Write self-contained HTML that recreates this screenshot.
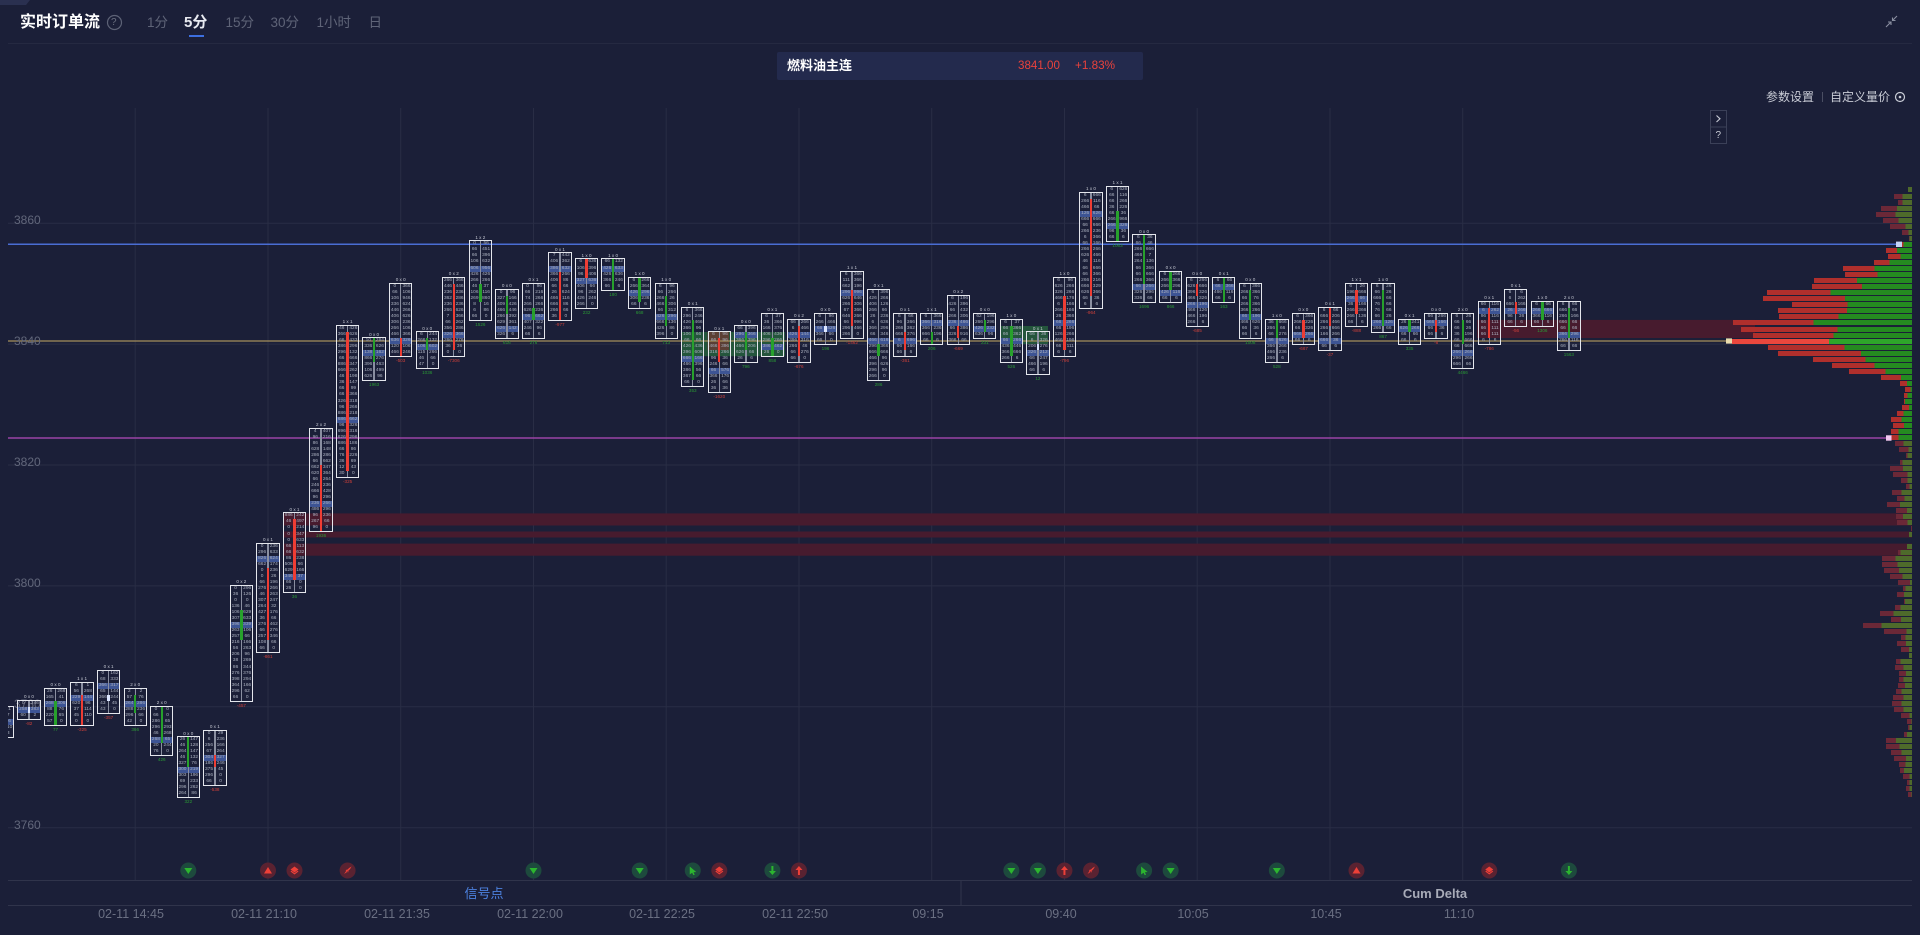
<!DOCTYPE html>
<html><head><meta charset="utf-8"><style>
*{margin:0;padding:0;box-sizing:border-box}
html,body{width:1920px;height:935px;overflow:hidden;background:#1b1f38;font-family:"Liberation Sans","Noto Sans CJK SC",sans-serif}
u{text-decoration:none}
.a{position:absolute;white-space:nowrap}
.yl{position:absolute;left:14px;font-size:12px;line-height:14px;color:#62677b}
.tl{position:absolute;top:907px;font-size:12.5px;line-height:15px;color:#6a6f82;transform:translateX(-50%);white-space:nowrap}
.c{position:absolute;left:calc(var(--x)*26.55px - 8.25px);top:calc(827.7px - var(--t)*6.045px);width:21.4px;height:calc((var(--t) - var(--b))*6.045px);outline:1.2px solid #e4e6ec}
.c .p{position:absolute;left:0;right:0;top:calc((var(--t) - var(--p) - 1)*6.045px);height:6.045px;background:#3d5494}
.c span{position:absolute;top:0;height:100%;width:9.6px;overflow:hidden;font:4.8px/6.045px "Liberation Sans",sans-serif;color:#aab0bf;text-align:center;word-spacing:12px;white-space:normal}
.c .L{left:0.1px}.c .R{right:0.1px}
.c .w{position:absolute;left:10px;width:1.4px;top:0;bottom:0;background:#8a8fa1}
.c .o{position:absolute;left:9.5px;width:2.4px;top:calc((var(--t) - var(--c))*6.045px);height:calc((var(--c) - var(--o))*6.045px)}
.c .g{background:#27a12c}.c .r{background:#ee3d34}.c .n{background:#dce6ff}
.c .h{position:absolute;left:-6px;right:-6px;top:-6.5px;font:4.6px/5px "Liberation Sans",sans-serif;color:#c3c6d1;text-align:center;white-space:nowrap}
.c .d{position:absolute;left:-6px;right:-6px;bottom:-7px;font:4.6px/5px "Liberation Sans",sans-serif;text-align:center;white-space:nowrap}
.c .gt{color:#2a9a35}.c .rt{color:#d0403a}
.vp i{position:absolute;display:block;height:5px;top:calc(822.2px - var(--j)*6.045px);left:calc(var(--r)*1px);width:calc(1912px - var(--r)*1px);background:linear-gradient(90deg,#6b2837 calc((var(--g) - var(--r))*1px),#4e6a2b 0)}
.vp i.v{background:linear-gradient(90deg,#b02f2c calc((var(--g) - var(--r))*1px),#258a20 0)}
.vp i.p{background:linear-gradient(90deg,#ea473d calc((var(--g) - var(--r))*1px),#2ea62a 0)}
</style></head><body>

<svg class="a" style="left:0;top:0" width="1920" height="935" viewBox="0 0 1920 935">
<path d="M0 0H30L26 5H0Z" fill="#2a3050"/>
<path d="M8 43.5H1912" stroke="#252941" stroke-width="1"/>
<g stroke="#292d45" stroke-width="1" fill="none">
<path d="M8 223.3H1912M8 344.1H1912M8 465H1912M8 585.9H1912M8 706.8H1912M8 827.7H1912"/>
<path d="M135.2 108V880M268 108V880M400.7 108V880M533.5 108V880M666.2 108V880M799 108V880M931.7 108V880M1064.5 108V880M1197.2 108V880M1330 108V880M1462.7 108V880"/>
</g>
<rect x="284" y="513.4" width="1628" height="12.1" fill="#471b2e"/>
<rect x="284" y="531.5" width="1628" height="6" fill="#471b2e"/>
<rect x="284" y="543.6" width="1628" height="12.1" fill="#471b2e"/>
<rect x="1477" y="319.9" width="278" height="18.1" fill="#471b2e"/>
<rect x="681" y="332" width="104" height="24.2" fill="#24553c"/>
<rect x="707.5" y="332" width="21.5" height="18.1" fill="#5b3f35"/>
<rect x="1000" y="326" width="48" height="18.1" fill="#24553c"/>
<path d="M8 244.3H1896" stroke="#4a6dd3" stroke-width="1.5"/>
<path d="M8 341H1726" stroke="#a58f5c" stroke-width="1.3"/>
<path d="M8 438H1886" stroke="#9a43a6" stroke-width="1.5"/>
<path d="M8 880.5H1912M8 905.5H1912M961 881V905" stroke="#30344b" stroke-width="1"/>
<circle cx="114.5" cy="22.5" r="7" fill="none" stroke="#5d6276" stroke-width="1.2"/>
<path d="M1122 63.5L1127 68.5L1132 63.5" fill="none" stroke="#8a8fa2" stroke-width="1.1"/>
<path d="M1886 27L1891 22M1888 22H1891V25M1897 16L1892.5 20.5M1892.5 17.5V20.5H1895.5" fill="none" stroke="#8a8fa0" stroke-width="1.1"/>
<path d="M1822.5 92V102" stroke="#4a4e63" stroke-width="1"/>
<circle cx="1900" cy="97" r="4.5" fill="none" stroke="#c9ccd6" stroke-width="1.2"/>
<circle cx="1900" cy="97" r="1.3" fill="#c9ccd6"/>
<rect x="1710.5" y="110.5" width="16" height="16.5" fill="none" stroke="#3b4058"/>
<rect x="1710.5" y="127" width="16" height="16.5" fill="none" stroke="#3b4058"/>
<path d="M1716.5 115.5L1720 118.8L1716.5 122" fill="none" stroke="#c9ccd6" stroke-width="1.1"/>
</svg>

<div class="a" style="left:20px;top:13px;font-weight:bold;font-size:16px;line-height:19px;color:#fff">实时订单流</div>
<div class="a" style="left:111px;top:16px;font-size:10px;line-height:13px;color:#6b7080">?</div>
<div class="a" style="left:147px;top:14.5px;font-size:13.5px;line-height:16px;color:#5f6478">1分</div>
<div class="a" style="left:184px;top:13.5px;font-size:15px;line-height:17px;font-weight:bold;color:#e8eaf0">5分</div>
<div class="a" style="left:188.5px;top:34.5px;width:15px;height:2px;background:#3d6fe0"></div>
<div class="a" style="left:225.5px;top:14.5px;font-size:13.5px;line-height:16px;color:#5f6478">15分</div>
<div class="a" style="left:270.5px;top:14.5px;font-size:13.5px;line-height:16px;color:#5f6478">30分</div>
<div class="a" style="left:316.5px;top:14.5px;font-size:13.5px;line-height:16px;color:#5f6478">1小时</div>
<div class="a" style="left:368.5px;top:14.5px;font-size:13.5px;line-height:16px;color:#5f6478">日</div>

<div class="a" style="left:777px;top:52px;width:366px;height:28px;background:#232a4d;border-radius:2px"></div>
<div class="a" style="left:787px;top:58px;font-weight:bold;font-size:13px;line-height:16px;color:#fff">燃料油主连</div>
<div class="a" style="left:1018px;top:59px;font-size:11.6px;line-height:14px;color:#e9423c">3841.00</div>
<div class="a" style="left:1075px;top:59px;font-size:11.7px;line-height:14px;color:#e9423c">+1.83%</div>

<div class="a" style="left:1766px;top:90px;font-size:12px;line-height:14px;color:#c9ccd6">参数设置</div>
<div class="a" style="left:1830px;top:90px;font-size:12px;line-height:14px;color:#c9ccd6">自定义量价</div>
<div class="a" style="left:1715.5px;top:128.5px;font-size:10px;line-height:13px;color:#c9ccd6">?</div>

<div class="yl" style="top:213px">3860</div>
<div class="yl" style="top:334px">3840</div>
<div class="yl" style="top:455px">3820</div>
<div class="yl" style="top:576px">3800</div>
<div class="yl" style="top:697px">3780</div>
<div class="yl" style="top:817.5px">3760</div>

<div class="a" style="left:0;top:0;width:1920px;height:935px;clip-path:inset(0 0 0 8px);white-space:normal">
<div class="c" style="--x:0;--t:20;--b:15;--p:17;--o:17;--c:18"><i class="p"></i><span class="L">8 26 140 35 12</span><span class="R">41 7 96 210 3</span><i class="w"></i><i class="o r"></i><u class="h">0 x 1</u><u class="d rt">-86</u></div>
<div class="c" style="--x:1;--t:21;--b:18;--p:19;--o:19;--c:20"><i class="p"></i><span class="L">0 258 60</span><span class="R">146 383 2</span><i class="w"></i><i class="o n"></i><u class="h">0 x 0</u><u class="d rt">-82</u></div>
<div class="c" style="--x:2;--t:23;--b:17;--p:20;--o:17;--c:21"><i class="p"></i><span class="L">26 165 268 88 220 57</span><span class="R">268 41 306 76 65 0</span><i class="w"></i><i class="o g"></i><u class="h">0 x 0</u><u class="d gt">77</u></div>
<div class="c" style="--x:3;--t:24;--b:17;--p:21;--o:17;--c:22"><i class="p"></i><span class="L">6 56 229 620 37 45 0</span><span class="R">1 268 144 96 114 110 0</span><i class="w"></i><i class="o r"></i><u class="h">1 x 1</u><u class="d rt">-325</u></div>
<div class="c" style="--x:4;--t:26;--b:19;--p:23;--o:21;--c:22"><i class="p"></i><span class="L">0 68 366 65 366 43 43</span><span class="R">162 333 317 144 244 45 0</span><i class="w"></i><i class="o n"></i><u class="h">0 x 1</u><u class="d rt">-357</u></div>
<div class="c" style="--x:5;--t:23;--b:17;--p:20;--o:19;--c:22"><i class="p"></i><span class="L">2 57 264 288 296 42</span><span class="R">2 76 286 236 66 0</span><i class="w"></i><i class="o g"></i><u class="h">2 x 0</u><u class="d gt">366</u></div>
<div class="c" style="--x:6;--t:20;--b:12;--p:14;--o:14;--c:20"><i class="p"></i><span class="L">0 66 286 296 46 268 20 76</span><span class="R">0 0 65 293 268 65 244 0</span><i class="w"></i><i class="o g"></i><u class="h">2 x 0</u><u class="d gt">426</u></div>
<div class="c" style="--x:7;--t:15;--b:5;--p:9;--o:10;--c:15"><i class="p"></i><span class="L">26 46 264 46 327 300 303 69 296 264</span><span class="R">147 128 147 132 76 219 196 233 262 86</span><i class="w"></i><i class="o g"></i><u class="h">0 x 0</u><u class="d gt">322</u></div>
<div class="c" style="--x:8;--t:16;--b:7;--p:11;--o:10;--c:12"><i class="p"></i><span class="L">0 6 256 67 304 186 375 296 66</span><span class="R">29 236 166 264 327 246 45 0 0</span><i class="w"></i><i class="o r"></i><u class="h">0 x 1</u><u class="d rt">-538</u></div>
<div class="c" style="--x:9;--t:40;--b:21;--p:33;--o:31;--c:36"><i class="p"></i><span class="L">0 36 0 136 106 307 396 263 257 216 56 206 38 86 276 398 364 296 66</span><span class="R">296 126 0 46 629 633 339 106 66 166 263 96 269 344 376 294 166 62 0</span><i class="w"></i><i class="o g"></i><u class="h">0 x 2</u><u class="d rt">-457</u></div>
<div class="c" style="--x:10;--t:47;--b:29;--p:44;--o:31;--c:43"><i class="p"></i><span class="L">0 296 826 662 0 0 66 276 46 307 264 427 36 276 66 257 108 66</span><span class="R">236 633 624 174 236 26 196 266 263 247 32 176 66 462 276 346 66 0</span><i class="w"></i><i class="o r"></i><u class="h">0 x 1</u><u class="d rt">-861</u></div>
<div class="c" style="--x:11;--t:52;--b:39;--p:41;--o:41;--c:51"><i class="p"></i><span class="L">886 46 0 0 0 66 66 86 506 629 346 66 26</span><span class="R">242 497 214 347 633 113 632 238 66 166 37 0 0</span><i class="w"></i><i class="o r"></i><u class="h">0 x 1</u><u class="d gt">36</u></div>
<div class="c" style="--x:12;--t:66;--b:49;--p:53;--o:49;--c:60"><i class="p"></i><span class="L">4 96 86 628 286 66 662 620 66 246 666 96 236 486 96 267 96</span><span class="R">407 216 168 148 286 662 347 364 264 236 428 296 266 296 236 66 0</span><i class="w"></i><i class="o r"></i><u class="h">2 x 2</u><u class="d gt">1936</u></div>
<div class="c" style="--x:13;--t:83;--b:58;--p:67;--o:59;--c:82"><i class="p"></i><span class="L">46 366 66 386 296 66 886 666 46 36 66 66 326 96 886 686 96 696 626 686 66 76 36 12 30</span><span class="R">426 626 433 296 132 666 347 262 198 147 99 366 318 266 218 662 326 316 296 186 86 226 69 43 0</span><i class="w"></i><i class="o r"></i><u class="h">1 x 1</u><u class="d rt">-325</u></div>
<div class="c" style="--x:14;--t:81;--b:74;--p:78;--o:77;--c:81"><i class="p"></i><span class="L">10 336 138 866 396 106 626</span><span class="R">264 626 162 276 463 499 96</span><i class="w"></i><i class="o g"></i><u class="h">0 x 0</u><u class="d gt">1963</u></div>
<div class="c" style="--x:15;--t:90;--b:78;--p:80;--o:78;--c:81"><i class="p"></i><span class="L">0 66 106 336 446 406 306 266 466 636 120 466</span><span class="R">366 106 946 624 266 626 236 106 366 326 106 246</span><i class="w"></i><i class="o r"></i><u class="h">0 x 0</u><u class="d rt">-503</u></div>
<div class="c" style="--x:16;--t:82;--b:76;--p:79;--o:79;--c:81"><i class="p"></i><span class="L">6 266 106 115 46 47</span><span class="R">244 132 602 266 66 0</span><i class="w"></i><i class="o g"></i><u class="h">0 x 0</u><u class="d gt">1036</u></div>
<div class="c" style="--x:17;--t:91;--b:78;--p:81;--o:79;--c:90"><i class="p"></i><span class="L">266 446 236 362 236 266 7 66 356 326 266 36 0</span><span class="R">366 446 236 286 236 626 366 262 286 366 276 36 0</span><i class="w"></i><i class="o r"></i><u class="h">0 x 2</u><u class="d rt">-7306</u></div>
<div class="c" style="--x:18;--t:97;--b:84;--p:92;--o:87;--c:90"><i class="p"></i><span class="L">0 66 66 106 606 426 266 46 106 269 8 6 66</span><span class="R">56 451 396 632 956 426 266 37 116 860 16 86 0</span><i class="w"></i><i class="o g"></i><u class="h">1 x 2</u><u class="d gt">1526</u></div>
<div class="c" style="--x:19;--t:89;--b:81;--p:82;--o:85;--c:88"><i class="p"></i><span class="L">0 327 409 466 266 629 626 326</span><span class="R">96 166 426 446 392 361 142 6</span><i class="w"></i><i class="o g"></i><u class="h">0 x 0</u><u class="d gt">616</u></div>
<div class="c" style="--x:20;--t:90;--b:81;--p:84;--o:84;--c:86"><i class="p"></i><span class="L">0 66 74 266 626 96 407 246 66</span><span class="R">96 216 266 266 236 662 322 96 6</span><i class="w"></i><i class="o g"></i><u class="h">0 x 1</u><u class="d gt">276</u></div>
<div class="c" style="--x:21;--t:95;--b:84;--p:92;--o:84;--c:92"><i class="p"></i><span class="L">7 406 386 366 406 66 26 466 666 266 36</span><span class="R">442 362 632 266 86 66 624 116 86 66 0</span><i class="w"></i><i class="o r"></i><u class="h">0 x 1</u><u class="d rt">-977</u></div>
<div class="c" style="--x:22;--t:94;--b:86;--p:90;--o:91;--c:94"><i class="p"></i><span class="L">6 106 96 327 406 96 426 266</span><span class="R">636 396 406 636 66 262 246 0</span><i class="w"></i><i class="o r"></i><u class="h">1 x 0</u><u class="d gt">232</u></div>
<div class="c" style="--x:23;--t:94;--b:89;--p:92;--o:89;--c:94"><i class="p"></i><span class="L">66 426 426 366 66</span><span class="R">132 633 636 246 6</span><i class="w"></i><i class="o g"></i><u class="h">1 x 0</u><u class="d gt">180</u></div>
<div class="c" style="--x:24;--t:91;--b:86;--p:88;--o:87;--c:91"><i class="p"></i><span class="L">6 266 426 306 66</span><span class="R">266 364 296 236 6</span><i class="w"></i><i class="o g"></i><u class="h">1 x 0</u><u class="d gt">668</u></div>
<div class="c" style="--x:25;--t:90;--b:81;--p:84;--o:83;--c:88"><i class="p"></i><span class="L">6 66 266 466 66 426 666 426 396</span><span class="R">96 266 26 306 312 296 136 86 0</span><i class="w"></i><i class="o g"></i><u class="h">1 x 0</u><u class="d gt">713</u></div>
<div class="c" style="--x:26;--t:86;--b:73;--p:77;--o:74;--c:84"><i class="p"></i><span class="L">6 296 426 366 106 66 426 396 666 466 386 367 66</span><span class="R">366 246 466 96 66 66 436 606 166 396 56 66 0</span><i class="w"></i><i class="o g"></i><u class="h">0 x 1</u><u class="d gt">353</u></div>
<div class="c" style="--x:27;--t:82;--b:72;--p:75;--o:77;--c:81"><i class="p"></i><span class="L">6 66 466 316 96 246 66 366 26 36</span><span class="R">96 96 396 266 36 66 576 176 66 36</span><i class="w"></i><i class="o r"></i><u class="h">0 x 1</u><u class="d rt">-1620</u></div>
<div class="c" style="--x:28;--t:83;--b:77;--p:81;--o:79;--c:82"><i class="p"></i><span class="L">66 296 366 466 626 26</span><span class="R">396 366 396 206 66 6</span><i class="w"></i><i class="o g"></i><u class="h">0 x 0</u><u class="d gt">796</u></div>
<div class="c" style="--x:29;--t:85;--b:78;--p:79;--o:78;--c:81"><i class="p"></i><span class="L">6 36 166 406 296 386 26</span><span class="R">37 366 376 436 266 462 0</span><i class="w"></i><i class="o g"></i><u class="h">0 x 1</u><u class="d gt">858</u></div>
<div class="c" style="--x:30;--t:84;--b:77;--p:81;--o:78;--c:83"><i class="p"></i><span class="L">66 6 426 396 266 66 66</span><span class="R">266 466 144 316 46 276 0</span><i class="w"></i><i class="o r"></i><u class="h">0 x 2</u><u class="d rt">-676</u></div>
<div class="c" style="--x:31;--t:85;--b:80;--p:82;--o:82;--c:83"><i class="p"></i><span class="L">6 266 66 366 66</span><span class="R">96 466 426 66 0</span><i class="w"></i><i class="o n"></i><u class="h">0 x 0</u><u class="d gt">196</u></div>
<div class="c" style="--x:32;--t:92;--b:81;--p:88;--o:83;--c:89"><i class="p"></i><span class="L">6 111 662 296 626 266 67 646 66 296 266</span><span class="R">366 366 196 996 646 306 366 266 996 466 0</span><i class="w"></i><i class="o r"></i><u class="h">1 x 1</u><u class="d rt">-1462</u></div>
<div class="c" style="--x:33;--t:89;--b:74;--p:80;--o:78;--c:80"><i class="p"></i><span class="L">6 426 406 266 26 6 366 66 466 296 666 466 396 296 266</span><span class="R">396 266 126 66 236 636 296 346 616 366 666 96 626 96 0</span><i class="w"></i><i class="o g"></i><u class="h">0 x 1</u><u class="d gt">286</u></div>
<div class="c" style="--x:34;--t:85;--b:78;--p:80;--o:79;--c:82"><i class="p"></i><span class="L">6 96 266 666 6 66 66</span><span class="R">66 366 362 376 696 166 6</span><i class="w"></i><i class="o r"></i><u class="h">0 x 1</u><u class="d rt">-361</u></div>
<div class="c" style="--x:35;--t:85;--b:80;--p:83;--o:80;--c:82"><i class="p"></i><span class="L">6 366 366 666 66</span><span class="R">366 316 236 196 6</span><i class="w"></i><i class="o g"></i><u class="h">1 x 1</u><u class="d gt">206</u></div>
<div class="c" style="--x:36;--t:88;--b:80;--p:83;--o:81;--c:83"><i class="p"></i><span class="L">6 426 66 266 236 66 326 366</span><span class="R">196 396 432 306 466 386 916 66</span><i class="w"></i><i class="o r"></i><u class="h">0 x 2</u><u class="d rt">-669</u></div>
<div class="c" style="--x:37;--t:85;--b:81;--p:82;--o:82;--c:84"><i class="p"></i><span class="L">62 266 426 636</span><span class="R">196 296 232 96</span><i class="w"></i><i class="o g"></i><u class="h">0 x 0</u><u class="d gt">231</u></div>
<div class="c" style="--x:38;--t:84;--b:77;--p:80;--o:78;--c:83"><i class="p"></i><span class="L">6 66 66 66 436 366 266</span><span class="R">37 366 362 266 446 666 6</span><i class="w"></i><i class="o g"></i><u class="h">1 x 0</u><u class="d gt">526</u></div>
<div class="c" style="--x:39;--t:82;--b:75;--p:78;--o:79;--c:80"><i class="p"></i><span class="L">66 6 206 326 66 466 66</span><span class="R">36 326 276 212 247 196 6</span><i class="w"></i><i class="o n"></i><u class="h">0 x 1</u><u class="d gt">12</u></div>
<div class="c" style="--x:40;--t:91;--b:78;--p:83;--o:79;--c:88"><i class="p"></i><span class="L">6 626 326 466 6 266 26 66 66 126 466 66 6</span><span class="R">96 266 266 176 166 166 366 266 196 266 196 111 6</span><i class="w"></i><i class="o r"></i><u class="h">1 x 0</u><u class="d rt">-796</u></div>
<div class="c" style="--x:41;--t:105;--b:86;--p:101;--o:88;--c:104"><i class="p"></i><span class="L">6 266 466 126 666 66 266 6 66 266 626 46 66 66 266 666 626 66 6</span><span class="R">666 116 66 626 666 666 236 366 166 266 466 116 666 366 216 329 366 36 6</span><i class="w"></i><i class="o r"></i><u class="h">1 x 0</u><u class="d rt">-964</u></div>
<div class="c" style="--x:42;--t:106;--b:97;--p:99;--o:97;--c:102"><i class="p"></i><span class="L">6 66 66 36 66 266 266 96 66</span><span class="R">626 116 266 226 36 966 326 36 6</span><i class="w"></i><i class="o g"></i><u class="h">1 x 1</u><u class="d gt">1063</u></div>
<div class="c" style="--x:43;--t:98;--b:87;--p:89;--o:90;--c:98"><i class="p"></i><span class="L">6 66 266 466 264 66 66 266 66 326 336</span><span class="R">36 46 666 7 136 366 666 366 266 296 66</span><i class="w"></i><i class="o g"></i><u class="h">0 x 0</u><u class="d gt">1696</u></div>
<div class="c" style="--x:44;--t:92;--b:87;--p:88;--o:89;--c:92"><i class="p"></i><span class="L">6 266 266 426 66</span><span class="R">266 366 296 116 6</span><i class="w"></i><i class="o g"></i><u class="h">0 x 0</u><u class="d gt">866</u></div>
<div class="c" style="--x:45;--t:91;--b:83;--p:86;--o:88;--c:90"><i class="p"></i><span class="L">6 626 396 466 266 466 466 266</span><span class="R">266 666 326 326 196 126 196 6</span><i class="w"></i><i class="o r"></i><u class="h">0 x 0</u><u class="d rt">-685</u></div>
<div class="c" style="--x:46;--t:91;--b:87;--p:89;--o:87;--c:91"><i class="p"></i><span class="L">6 66 466 66</span><span class="R">66 366 116 6</span><i class="w"></i><i class="o g"></i><u class="h">0 x 1</u><u class="d gt">163</u></div>
<div class="c" style="--x:47;--t:90;--b:81;--p:84;--o:84;--c:89"><i class="p"></i><span class="L">6 266 66 266 366 66 466 66 66</span><span class="R">366 366 76 366 266 196 626 36 6</span><i class="w"></i><i class="o g"></i><u class="h">0 x 0</u><u class="d gt">1008</u></div>
<div class="c" style="--x:48;--t:84;--b:77;--p:80;--o:81;--c:84"><i class="p"></i><span class="L">36 266 66 66 366 466 266</span><span class="R">666 66 276 626 266 236 6</span><i class="w"></i><i class="o g"></i><u class="h">1 x 0</u><u class="d gt">528</u></div>
<div class="c" style="--x:49;--t:85;--b:80;--p:81;--o:81;--c:84"><i class="p"></i><span class="L">6 266 66 666 66</span><span class="R">366 226 326 266 6</span><i class="w"></i><i class="o r"></i><u class="h">0 x 0</u><u class="d rt">-667</u></div>
<div class="c" style="--x:50;--t:86;--b:79;--p:80;--o:83;--c:86"><i class="p"></i><span class="L">6 666 266 266 166 666 66</span><span class="R">66 206 466 666 266 36 6</span><i class="w"></i><i class="o r"></i><u class="h">0 x 1</u><u class="d rt">-37</u></div>
<div class="c" style="--x:51;--t:90;--b:83;--p:87;--o:85;--c:89"><i class="p"></i><span class="L">6 196 266 36 266 266 66</span><span class="R">26 666 66 166 366 136 6</span><i class="w"></i><i class="o r"></i><u class="h">1 x 1</u><u class="d rt">-888</u></div>
<div class="c" style="--x:52;--t:90;--b:82;--p:83;--o:83;--c:89"><i class="p"></i><span class="L">6 66 666 76 76 66 266 266</span><span class="R">26 26 66 66 66 26 126 66</span><i class="w"></i><i class="o g"></i><u class="h">1 x 0</u><u class="d gt">867</u></div>
<div class="c" style="--x:53;--t:84;--b:80;--p:82;--o:82;--c:84"><i class="p"></i><span class="L">26 626 66 66</span><span class="R">241 266 66 6</span><i class="w"></i><i class="o g"></i><u class="h">0 x 1</u><u class="d gt">335</u></div>
<div class="c" style="--x:54;--t:85;--b:81;--p:83;--o:82;--c:84"><i class="p"></i><span class="L">66 666 66 66</span><span class="R">266 166 36 6</span><i class="w"></i><i class="o r"></i><u class="h">0 x 0</u><u class="d rt">-8</u></div>
<div class="c" style="--x:55;--t:85;--b:76;--p:78;--o:80;--c:84"><i class="p"></i><span class="L">6 66 66 36 66 66 266 296 666</span><span class="R">26 66 26 196 666 666 266 266 66</span><i class="w"></i><i class="o g"></i><u class="h">2 x 0</u><u class="d gt">4466</u></div>
<div class="c" style="--x:56;--t:87;--b:80;--p:85;--o:81;--c:86"><i class="p"></i><span class="L">66 6 96 66 66 66 6</span><span class="R">116 262 116 111 111 111 6</span><i class="w"></i><i class="o r"></i><u class="h">0 x 1</u><u class="d rt">-786</u></div>
<div class="c" style="--x:57;--t:89;--b:83;--p:85;--o:85;--c:87"><i class="p"></i><span class="L">6 6 666 26 96 66</span><span class="R">6 262 166 266 36 6</span><i class="w"></i><i class="o r"></i><u class="h">0 x 1</u><u class="d rt">-56</u></div>
<div class="c" style="--x:58;--t:87;--b:83;--p:85;--o:84;--c:87"><i class="p"></i><span class="L">6 266 366 66</span><span class="R">66 666 116 6</span><i class="w"></i><i class="o g"></i><u class="h">1 x 0</u><u class="d gt">1306</u></div>
<div class="c" style="--x:59;--t:87;--b:79;--p:81;--o:81;--c:86"><i class="p"></i><span class="L">6 666 266 666 66 366 266 66</span><span class="R">66 66 166 66 66 296 116 66</span><i class="w"></i><i class="o g"></i><u class="h">2 x 0</u><u class="d gt">1563</u></div>
</div>

<div class="vp">
<i style="--j:105;--r:1908;--g:1908"></i>
<i style="--j:104;--r:1894.3;--g:1902.7"></i>
<i style="--j:103;--r:1898.3;--g:1902.7"></i>
<i style="--j:102;--r:1881.3;--g:1897.3"></i>
<i style="--j:101;--r:1875.7;--g:1895"></i>
<i style="--j:100;--r:1883.3;--g:1899"></i>
<i style="--j:99;--r:1890.3;--g:1905.7"></i>
<i style="--j:98;--r:1902;--g:1908.3"></i>
<i style="--j:97;--r:1908.7;--g:1909.3"></i>
<i class="v" style="--j:96;--r:1901.7;--g:1903.3"></i>
<i class="v" style="--j:95;--r:1886;--g:1897"></i>
<i class="v" style="--j:94;--r:1888;--g:1900.7"></i>
<i class="v" style="--j:93;--r:1874;--g:1889.7"></i>
<i class="v" style="--j:92;--r:1843.3;--g:1875"></i>
<i class="v" style="--j:91;--r:1844.7;--g:1877.3"></i>
<i class="v" style="--j:90;--r:1814.3;--g:1857.3"></i>
<i class="v" style="--j:89;--r:1811.7;--g:1861.7"></i>
<i class="v" style="--j:88;--r:1767.3;--g:1831"></i>
<i class="v" style="--j:87;--r:1763.3;--g:1845.3"></i>
<i class="v" style="--j:86;--r:1791.7;--g:1847"></i>
<i class="v" style="--j:85;--r:1778;--g:1847"></i>
<i class="v" style="--j:84;--r:1779.3;--g:1839"></i>
<i class="v" style="--j:83;--r:1732.7;--g:1813.3"></i>
<i class="v" style="--j:82;--r:1741.3;--g:1837.7"></i>
<i class="v" style="--j:81;--r:1753.3;--g:1834"></i>
<i class="p" style="--j:80;--r:1732;--g:1829"></i>
<i class="v" style="--j:79;--r:1767.7;--g:1844.3"></i>
<i class="v" style="--j:78;--r:1778;--g:1861"></i>
<i class="v" style="--j:77;--r:1813;--g:1865.7"></i>
<i class="v" style="--j:76;--r:1832;--g:1874.7"></i>
<i class="v" style="--j:75;--r:1849;--g:1885.7"></i>
<i class="v" style="--j:74;--r:1881;--g:1901"></i>
<i class="v" style="--j:73;--r:1900.3;--g:1907.3"></i>
<i class="v" style="--j:72;--r:1904.7;--g:1910"></i>
<i class="v" style="--j:71;--r:1903.7;--g:1907.3"></i>
<i class="v" style="--j:70;--r:1904;--g:1905"></i>
<i class="v" style="--j:69;--r:1902;--g:1909"></i>
<i class="v" style="--j:68;--r:1897;--g:1903.3"></i>
<i class="v" style="--j:67;--r:1891;--g:1901.7"></i>
<i class="v" style="--j:66;--r:1892.7;--g:1903.7"></i>
<i class="v" style="--j:65;--r:1891;--g:1898.3"></i>
<i class="v" style="--j:64;--r:1891;--g:1898.7"></i>
<i style="--j:63;--r:1895.3;--g:1903.7"></i>
<i style="--j:62;--r:1899;--g:1908.7"></i>
<i style="--j:61;--r:1905.7;--g:1907.3"></i>
<i style="--j:60;--r:1899.7;--g:1902"></i>
<i style="--j:59;--r:1889.7;--g:1902.7"></i>
<i style="--j:58;--r:1893;--g:1907.3"></i>
<i style="--j:57;--r:1901;--g:1907.7"></i>
<i style="--j:56;--r:1905.7;--g:1909.3"></i>
<i style="--j:55;--r:1891.7;--g:1901"></i>
<i style="--j:54;--r:1897;--g:1904.7"></i>
<i style="--j:53;--r:1887.3;--g:1900.3"></i>
<i style="--j:52;--r:1896;--g:1907"></i>
<i style="--j:51;--r:1896;--g:1903"></i>
<i style="--j:50;--r:1897;--g:1907.3"></i>
<i style="--j:49;--r:1911;--g:1912"></i>
<i style="--j:48;--r:1909;--g:1909"></i>
<i style="--j:46;--r:1906.7;--g:1906.7"></i>
<i style="--j:45;--r:1898.3;--g:1901"></i>
<i style="--j:44;--r:1882.3;--g:1895.7"></i>
<i style="--j:43;--r:1882.3;--g:1897.7"></i>
<i style="--j:42;--r:1884;--g:1899"></i>
<i style="--j:41;--r:1889.7;--g:1902.3"></i>
<i style="--j:40;--r:1897.7;--g:1909.7"></i>
<i style="--j:39;--r:1903;--g:1905.7"></i>
<i style="--j:38;--r:1897.3;--g:1904.3"></i>
<i style="--j:37;--r:1903.7;--g:1904.7"></i>
<i style="--j:36;--r:1895.3;--g:1901"></i>
<i style="--j:35;--r:1879.7;--g:1893"></i>
<i style="--j:34;--r:1891;--g:1901"></i>
<i style="--j:33;--r:1863.3;--g:1882"></i>
<i style="--j:32;--r:1883.7;--g:1906"></i>
<i style="--j:31;--r:1901.3;--g:1906"></i>
<i style="--j:30;--r:1896.7;--g:1905.7"></i>
<i style="--j:29;--r:1901.3;--g:1909.3"></i>
<i style="--j:28;--r:1909;--g:1909"></i>
<i style="--j:27;--r:1896.3;--g:1901"></i>
<i style="--j:26;--r:1894.7;--g:1903"></i>
<i style="--j:25;--r:1898.7;--g:1905.7"></i>
<i style="--j:24;--r:1899.3;--g:1903.7"></i>
<i style="--j:23;--r:1898.3;--g:1905.3"></i>
<i style="--j:22;--r:1896.3;--g:1902"></i>
<i style="--j:21;--r:1893.3;--g:1903.7"></i>
<i style="--j:20;--r:1891.7;--g:1901"></i>
<i style="--j:19;--r:1894;--g:1903.3"></i>
<i style="--j:18;--r:1900.7;--g:1909"></i>
<i style="--j:17;--r:1907.3;--g:1911.7"></i>
<i style="--j:16;--r:1907.7;--g:1909.3"></i>
<i style="--j:15;--r:1904;--g:1907"></i>
<i style="--j:14;--r:1886.3;--g:1896.3"></i>
<i style="--j:13;--r:1886;--g:1899.3"></i>
<i style="--j:12;--r:1891;--g:1901.7"></i>
<i style="--j:11;--r:1894;--g:1906"></i>
<i style="--j:10;--r:1899;--g:1905.7"></i>
<i style="--j:9;--r:1899.7;--g:1903.7"></i>
<i style="--j:8;--r:1903.3;--g:1909.7"></i>
<i style="--j:7;--r:1907;--g:1909.7"></i>
<i style="--j:6;--r:1906.3;--g:1909.7"></i>
<i style="--j:5;--r:1908.3;--g:1911.7"></i>
</div>

<svg class="a" style="left:0;top:0" width="1920" height="935" viewBox="0 0 1920 935">
<rect x="1896" y="241.6" width="6" height="5.4" fill="#c6d4f6"/>
<rect x="1726" y="338.4" width="6" height="5.2" fill="#eadcae"/>
<rect x="1886" y="435.3" width="5.5" height="5.4" fill="#f2c8f0"/>
<g fill="#1d4a3d">
<circle cx="188.3" cy="870.5" r="8"/><circle cx="533.5" cy="870.5" r="8"/><circle cx="639.7" cy="870.5" r="8"/><circle cx="692.75" cy="870.5" r="8"/><circle cx="772.4" cy="870.5" r="8"/><circle cx="1011.35" cy="870.5" r="8"/><circle cx="1037.9" cy="870.5" r="8"/><circle cx="1144.1" cy="870.5" r="8"/><circle cx="1170.65" cy="870.5" r="8"/><circle cx="1276.85" cy="870.5" r="8"/><circle cx="1568.9" cy="870.5" r="8"/>
</g>
<g fill="#5a2231">
<circle cx="268" cy="870.5" r="8"/><circle cx="294.5" cy="870.5" r="8"/><circle cx="347.6" cy="870.5" r="8"/><circle cx="719.3" cy="870.5" r="8"/><circle cx="798.95" cy="870.5" r="8"/><circle cx="1064.45" cy="870.5" r="8"/><circle cx="1091" cy="870.5" r="8"/><circle cx="1356.5" cy="870.5" r="8"/><circle cx="1489.25" cy="870.5" r="8"/>
</g>
<g fill="#2cb52f">
<path transform="translate(188.3 870.5)" d="M-4,-2.5H4L0,3.5Z"/>
<path transform="translate(533.5 870.5)" d="M-4,-2.5H4L0,3.5Z"/>
<path transform="translate(639.7 870.5)" d="M-4,-2.5H4L0,3.5Z"/>
<path transform="translate(1011.35 870.5)" d="M-4,-2.5H4L0,3.5Z"/>
<path transform="translate(1037.9 870.5)" d="M-4,-2.5H4L0,3.5Z"/>
<path transform="translate(1170.65 870.5)" d="M-4,-2.5H4L0,3.5Z"/>
<path transform="translate(1276.85 870.5)" d="M-4,-2.5H4L0,3.5Z"/>
<path transform="translate(692.75 870.5)" d="M-3,-4L3.5,1.5L0.8,1.8L2,4.2L0.6,4.6L-0.6,2.2L-3,4Z"/>
<path transform="translate(1144.1 870.5)" d="M-3,-4L3.5,1.5L0.8,1.8L2,4.2L0.6,4.6L-0.6,2.2L-3,4Z"/>
<path transform="translate(772.4 870.5)" d="M-1,-4.5H1V0.5H3.5L0,4.5L-3.5,0.5H-1Z"/>
<path transform="translate(1568.9 870.5)" d="M-1,-4.5H1V0.5H3.5L0,4.5L-3.5,0.5H-1Z"/>
</g>
<g fill="#ee4038">
<path transform="translate(268 870.5)" d="M-4,3H4L0,-3.5Z"/>
<path transform="translate(1356.5 870.5)" d="M-4,3H4L0,-3.5Z"/>
<path transform="translate(798.95 870.5)" d="M-1,4.5H1V-0.5H3.5L0,-4.5L-3.5,-0.5H-1Z"/>
<path transform="translate(1064.45 870.5)" d="M-1,4.5H1V-0.5H3.5L0,-4.5L-3.5,-0.5H-1Z"/>
<path transform="translate(294.5 870.5)" d="M-4,-1L0,-4L4,-1L0,2Z M-4,1L0,4L4,1L3,0.3L0,2.6L-3,0.3Z"/>
<path transform="translate(719.3 870.5)" d="M-4,-1L0,-4L4,-1L0,2Z M-4,1L0,4L4,1L3,0.3L0,2.6L-3,0.3Z"/>
<path transform="translate(1489.25 870.5)" d="M-4,-1L0,-4L4,-1L0,2Z M-4,1L0,4L4,1L3,0.3L0,2.6L-3,0.3Z"/>
<path transform="translate(347.6 870.5)" d="M-3.5,3.5L-1.5,0.5L1.5,-2.5L4,-4L2.5,-1.5L-0.5,1.5Z M-2,-0.5L0,-1L-1,1Z M0.5,2L1,0L-1,1Z"/>
<path transform="translate(1091 870.5)" d="M-3.5,3.5L-1.5,0.5L1.5,-2.5L4,-4L2.5,-1.5L-0.5,1.5Z M-2,-0.5L0,-1L-1,1Z M0.5,2L1,0L-1,1Z"/>
</g>
</svg>

<div class="a" style="left:484px;top:886px;transform:translateX(-50%);font-size:13px;line-height:16px;color:#4d82e0">信号点</div>
<div class="a" style="left:1435px;top:886px;transform:translateX(-50%);font-size:13px;line-height:16px;font-weight:bold;color:#a8abb8">Cum Delta</div>

<div class="tl" style="left:131px">02-11 14:45</div>
<div class="tl" style="left:264px">02-11 21:10</div>
<div class="tl" style="left:397px">02-11 21:35</div>
<div class="tl" style="left:530px">02-11 22:00</div>
<div class="tl" style="left:662px">02-11 22:25</div>
<div class="tl" style="left:795px">02-11 22:50</div>
<div class="tl" style="left:928px">09:15</div>
<div class="tl" style="left:1061px">09:40</div>
<div class="tl" style="left:1193px">10:05</div>
<div class="tl" style="left:1326px">10:45</div>
<div class="tl" style="left:1459px">11:10</div>
</body></html>
